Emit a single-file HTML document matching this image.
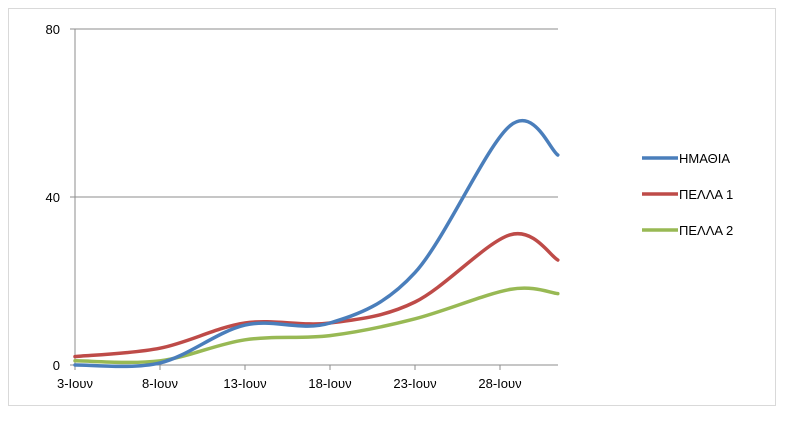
<!DOCTYPE html>
<html><head><meta charset="utf-8"><style>
body{margin:0;background:#fff;font-family:"Liberation Sans",sans-serif}
svg{display:block}
</style></head><body>
<svg width="803" height="422">
<rect x="8.5" y="8.5" width="767" height="397" fill="#fff" stroke="#d9d9d9"/>
<g id="grid"></g><g id="axes"></g><g id="series"></g><g id="legend"></g>
</svg>
<script>
const days=[3,8,13,18,23,28.6,31.4];
const tickDays=[3,8,13,18,23,28];
const tickLabels=["3-Ιουν","8-Ιουν","13-Ιουν","18-Ιουν","23-Ιουν","28-Ιουν"];
const yTicks=[0,40,80];
const names=["ΗΜΑΘΙΑ","ΠΕΛΛΑ 1","ΠΕΛΛΑ 2"];
const colors=["#4a7ebb","#be4b48","#98b954"];
const imathia=[0,0.5,9.5,10,22,57,50];
const pella1=[2,4,10,10,15,31,25];
const pella2=[1,1,6,7,11,18,17];
const seriesData=[imathia,pella1,pella2];
const NS="http://www.w3.org/2000/svg";
const X=d=>75+(d-3)*17, Y=v=>365-v*4.2;
function mk(t,a,p){const e=document.createElementNS(NS,t);for(const k in a)e.setAttribute(k,a[k]);p.appendChild(e);return e;}
const grid=document.getElementById('grid'),axes=document.getElementById('axes'),ser=document.getElementById('series'),leg=document.getElementById('legend');
yTicks.forEach(v=>{
 if(v>0){const l=mk('line',{x1:75,x2:558,y1:Y(v),y2:Y(v),stroke:'#8c8c8c','stroke-width':1},grid);
 
 }
 const t=mk('text',{x:60,y:Y(v)+5,'text-anchor':'end','font-size':13,fill:'#000'},axes);t.textContent=v;
 
 
 mk('line',{x1:70,x2:75,y1:Y(v),y2:Y(v),stroke:'#8c8c8c'},axes);
});
const ya=mk('line',{x1:75,x2:75,y1:29,y2:365,stroke:'#8c8c8c'},axes);


const xa=mk('line',{x1:75,x2:558,y1:365,y2:365,stroke:'#8c8c8c'},axes);


tickDays.forEach((d,i)=>{
 mk('line',{x1:X(d),x2:X(d),y1:365,y2:370,stroke:'#8c8c8c'},axes);
 const t=mk('text',{x:X(d),y:388,'text-anchor':'middle','font-size':13,fill:'#000'},axes);t.textContent=tickLabels[i];
 
 
});
function path(vals){
 const p=vals.map((v,i)=>[X(days[i]),Y(v)]);let d='M'+p[0][0]+','+p[0][1];
 for(let i=0;i<p.length-1;i++){const p0=p[i-1]||p[i],p1=p[i],p2=p[i+1],p3=p[i+2]||p2;const k=6;
  d+=` C${p1[0]+(p2[0]-p0[0])/k},${p1[1]+(p2[1]-p0[1])/k} ${p2[0]-(p3[0]-p1[0])/k},${p2[1]-(p3[1]-p1[1])/k} ${p2[0]},${p2[1]}`;}
 return d;}
[2,1,0].forEach(s=>{
 const e=mk('path',{d:path(seriesData[s]),fill:'none',stroke:colors[s],'stroke-width':3.5,'stroke-linecap':'round'},ser);
 
 
});
names.forEach((n,i)=>{
 const y=158+i*36;
 const g=mk('g',{},leg);
 
 
 mk('line',{x1:642,x2:678,y1:y,y2:y,stroke:colors[i],'stroke-width':3.5},g);
 const t=mk('text',{x:679,y:y+5,'font-size':13,fill:'#000'},g);t.textContent=n;
});
</script>
</body></html>
